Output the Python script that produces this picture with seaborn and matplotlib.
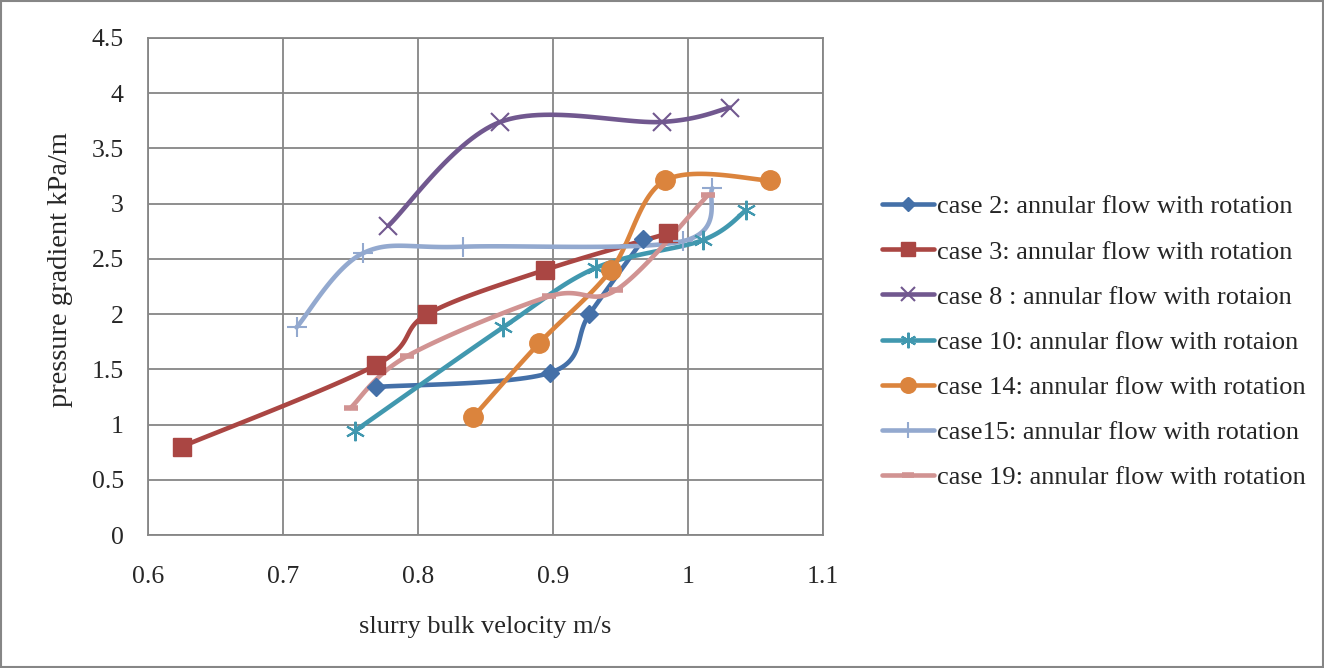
import numpy as np
import pandas as pd
import matplotlib
matplotlib.use("Agg")
import matplotlib.pyplot as plt
import seaborn as sns
from matplotlib.lines import Line2D
from matplotlib.patches import Rectangle

sns.set_style("white")
plt.rcParams['font.family'] = ['Liberation Serif', 'DejaVu Serif']

# ---- data ----
case2_x = [0.769, 0.898, 0.927, 0.967]
case2_y = [1.34, 1.47, 2.00, 2.68]
case3_x = [0.625, 0.769, 0.807, 0.894, 0.985]
case3_y = [0.80, 1.54, 2.00, 2.40, 2.73]
case8_x = [0.778, 0.861, 0.981, 1.031]
case8_y = [2.80, 3.74, 3.74, 3.87]
case10_x = [0.753, 0.863, 0.932, 1.011, 1.043]
case10_y = [0.94, 1.88, 2.42, 2.67, 2.94]
case14_x = [0.841, 0.890, 0.943, 0.983, 1.061]
case14_y = [1.07, 1.74, 2.40, 3.21, 3.21]
case15_x = [0.710, 0.759, 0.833, 0.996, 1.018]
case15_y = [1.88, 2.55, 2.61, 2.66, 3.14]
case19_x = [0.750, 0.792, 0.897, 0.947, 1.015]
case19_y = [1.15, 1.62, 2.16, 2.22, 3.08]

labels = ["case 2: annular flow with rotation",
          "case 3: annular flow with rotation",
          "case 8 : annular flow with rotaion",
          "case 10: annular flow with rotaion",
          "case 14: annular flow with rotation",
          "case15: annular flow with rotation",
          "case 19: annular flow with rotation"]
x_ticks = [0.6, 0.7, 0.8, 0.9, 1.0, 1.1]
x_tick_labels = ["0.6", "0.7", "0.8", "0.9", "1", "1.1"]
y_ticks = [0, 0.5, 1, 1.5, 2, 2.5, 3, 3.5, 4, 4.5]
y_tick_labels = ["0", "0.5", "1", "1.5", "2", "2.5", "3", "3.5", "4", "4.5"]

colors = ["#4470A8", "#AA4643", "#71588F", "#4198AF", "#DB843D", "#93A9CF", "#D19392"]
series = [(case2_x, case2_y), (case3_x, case3_y), (case8_x, case8_y),
          (case10_x, case10_y), (case14_x, case14_y), (case15_x, case15_y),
          (case19_x, case19_y)]
markers = ["D", "s", "x", (6, 2, 0), "o", "+", "_"]
msizes = [9.5, 12.5, 13, 14, 14, 15, 10]
mews = [1, 1, 1.5, 1.5, 1, 1.5, 4]


def smooth(xs, ys, n=30):
    P = np.column_stack([xs, ys]).astype(float)
    m = len(P)
    out = [P[0]]
    for i in range(m - 1):
        p0 = P[i - 1] if i > 0 else P[i]
        p1 = P[i]
        p2 = P[i + 1]
        p3 = P[i + 2] if i + 2 < m else P[i + 1]
        c1 = p1 + (p2 - p0) / 6.0
        c2 = p2 - (p3 - p1) / 6.0
        t = np.linspace(0, 1, n)[1:, None]
        seg = ((1 - t) ** 3) * p1 + 3 * ((1 - t) ** 2) * t * c1 + 3 * (1 - t) * t ** 2 * c2 + t ** 3 * p2
        out.extend(seg)
    out = np.array(out)
    return out[:, 0], out[:, 1]


fig = plt.figure(figsize=(13.24, 6.68), dpi=100)
ax = fig.add_axes([148 / 1324, 1 - 535 / 668, (823 - 148) / 1324, (535 - 38) / 668])

handles = []
for (xs, ys), lab, c, mk, ms, mew in zip(series, labels, colors, markers, msizes, mews):
    sx, sy = smooth(xs, ys)
    df = pd.DataFrame({"x": sx, "y": sy})
    sns.lineplot(data=df, x="x", y="y", sort=False, estimator=None, color=c,
                 linewidth=3.3, ax=ax, zorder=3)
    dp = pd.DataFrame({"x": xs, "y": ys})
    ax.plot(dp["x"], dp["y"], linestyle="none", marker=mk, markersize=ms,
            markeredgewidth=mew, color=c, markeredgecolor=c, zorder=4)
    handles.append(Line2D([0], [0], color=c, lw=3.3, marker=mk,
                          markersize=ms * 0.8, markeredgewidth=mew, markeredgecolor=c))

ax.set_xlim(0.6, 1.1)
ax.set_ylim(0, 4.5)
ax.set_xticks(x_ticks)
ax.set_xticklabels(x_tick_labels)
ax.set_yticks(y_ticks)
ax.set_yticklabels(y_tick_labels)
ax.grid(True, color="#868686", linewidth=1.3)
for s in ax.spines.values():
    s.set_color("#868686")
    s.set_linewidth(1.3)
ax.tick_params(axis="both", which="both", direction="out", length=4.5, width=1.3,
               color="#868686", labelsize=18.5)
ax.tick_params(axis="y", pad=13)
ax.tick_params(axis="x", pad=18)
ax.set_xlabel("slurry bulk velocity m/s", fontsize=19)
ax.set_ylabel("pressure gradient kPa/m", fontsize=20.5)
ax.xaxis.label.set_va("center")
ax.yaxis.label.set_va("center")
ax.xaxis.set_label_coords(0.5, -(627 - 535) / 497)
ax.yaxis.set_label_coords(-(148 - 60) / 675, (535 - 270) / 497)

leg = fig.legend(handles=handles, labels=labels, loc="center left",
                 bbox_to_anchor=(871 / 1324, 1 - 342 / 668), frameon=False,
                 fontsize=19, handlelength=2.0, handletextpad=0.1,
                 labelspacing=0.82, borderaxespad=0)

fig.patches.append(Rectangle((0.001, 0.002), 0.998, 0.996, transform=fig.transFigure,
                             fill=False, edgecolor="#868686", linewidth=1.5))

fig.savefig("out.png", dpi=100)
